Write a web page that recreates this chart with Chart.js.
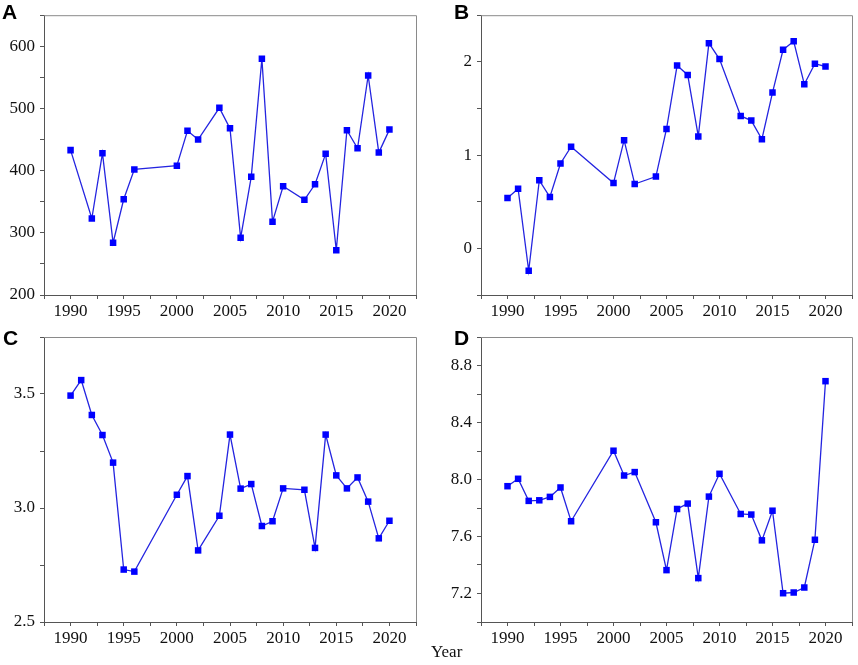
<!DOCTYPE html>
<html>
<head>
<meta charset="utf-8">
<script src="https://cdn.jsdelivr.net/npm/chart.js@4"></script>
<style>
  body { margin: 0; background: #fff; width: 858px; height: 665px; position: relative; overflow: hidden; }
  .pane { position: absolute; }
  .tag { position: absolute; font: bold 21px "Liberation Sans", Arial, sans-serif; color: #000; }
  #year { position: absolute; left: 431px; top: 642px; font: 17px "Liberation Serif", serif; color: #111; }
</style>
</head>
<body>
<div class="pane" style="left:0;top:0;width:429px;height:320px"><canvas id="chartA"></canvas></div>
<div class="pane" style="left:428px;top:0;width:430px;height:320px"><canvas id="chartB"></canvas></div>
<div class="pane" style="left:0;top:320px;width:429px;height:345px"><canvas id="chartC"></canvas></div>
<div class="pane" style="left:428px;top:320px;width:430px;height:345px"><canvas id="chartD"></canvas></div>
<div class="tag" style="left:2px;top:0px">A</div>
<div class="tag" style="left:454px;top:0px">B</div>
<div class="tag" style="left:3px;top:326px">C</div>
<div class="tag" style="left:454px;top:326px">D</div>
<div id="year">Year</div>
<script>
// années (A n'a pas 1991)
const yearsA = [1990, 1992, 1993, 1994, 1995, 1996, 2000, 2001, 2002, 2004, 2005, 2006, 2007, 2008, 2009, 2010, 2012, 2013, 2014, 2015, 2016, 2017, 2018, 2019, 2020];
const yearsBCD = [1990, 1991, 1992, 1993, 1994, 1995, 1996, 2000, 2001, 2002, 2004, 2005, 2006, 2007, 2008, 2009, 2010, 2012, 2013, 2014, 2015, 2016, 2017, 2018, 2019, 2020];

const valuesA = [433, 323, 428, 284, 354, 402, 408, 464, 450, 501, 468, 292, 390, 580, 318, 375, 353, 378, 427, 272, 465, 436, 553, 429, 466];
const valuesB = [0.54, 0.64, -0.24, 0.73, 0.55, 0.91, 1.09, 0.70, 1.16, 0.69, 0.77, 1.28, 1.96, 1.86, 1.20, 2.20, 2.03, 1.42, 1.37, 1.17, 1.67, 2.13, 2.22, 1.76, 1.98, 1.95];
const valuesC = [3.493, 3.561, 3.408, 3.320, 3.199, 2.730, 2.721, 3.058, 3.140, 2.814, 2.966, 3.322, 3.085, 3.105, 2.921, 2.942, 3.086, 3.080, 2.825, 3.322, 3.143, 3.086, 3.134, 3.028, 2.867, 2.944];
const valuesD = [7.953, 8.005, 7.850, 7.854, 7.878, 7.944, 7.707, 8.202, 8.028, 8.052, 7.700, 7.364, 7.793, 7.831, 7.308, 7.880, 8.040, 7.758, 7.754, 7.573, 7.781, 7.202, 7.207, 7.242, 7.577, 8.690];

// axes y : [min, max, pas des petites graduations]
const rangeA = [200, 650, 50];
const rangeB = [-0.5, 2.5, 0.5];
const rangeC = [2.5, 3.75, 0.25];
const rangeD = [7.0, 9.0, 0.2];

const labelFont = { family: '"Liberation Serif", "Times New Roman", serif', size: 17 };

// cadre gris en haut et à droite
const cadre = {
  id: 'cadre',
  afterDraw(chart) {
    const a = chart.chartArea, ctx = chart.ctx;
    ctx.save();
    ctx.strokeStyle = '#8a8a8a';
    ctx.lineWidth = 1;
    ctx.beginPath();
    ctx.moveTo(a.left, a.top + 0.5);
    ctx.lineTo(a.right + 0.5, a.top + 0.5);
    ctx.lineTo(a.right + 0.5, a.bottom);
    ctx.stroke();
    ctx.restore();
  }
};

function faireGraphique(id, years, values, range, yLabel, yWidth, pad, xHeight) {
  const ctx = document.getElementById(id).getContext('2d');
  return new Chart(ctx, {
    type: 'line',
    data: {
      datasets: [{
        data: years.map((y, i) => ({ x: y, y: values[i] })),
        borderColor: '#2424e0',
        borderWidth: 1.3,
        backgroundColor: '#0000ff',
        pointBackgroundColor: '#0000ff',
        pointBorderColor: '#0000ff',
        pointBorderWidth: 0,
        pointStyle: 'rect',
        pointRadius: 4.6,
        tension: 0,
        fill: false
      }]
    },
    options: {
      responsive: true,
      maintainAspectRatio: false,
      animation: false,
      layout: { padding: pad },
      plugins: { legend: { display: false }, tooltip: { enabled: false } },
      scales: {
        x: {
          type: 'linear',
          min: 1987.5,
          max: 2022.5,
          afterFit: s => { s.height = xHeight; },
          border: { color: '#555', width: 1 },
          grid: { drawOnChartArea: false, drawTicks: true, tickLength: 4, tickColor: '#555' },
          ticks: {
            stepSize: 2.5,
            autoSkip: false,
            maxRotation: 0,
            padding: 2,
            color: '#111',
            font: labelFont,
            callback: v => (v % 5 === 0 ? String(v) : '')
          }
        },
        y: {
          min: range[0],
          max: range[1],
          afterFit: s => { s.width = yWidth; },
          border: { color: '#555', width: 1 },
          grid: { drawOnChartArea: false, drawTicks: true, tickLength: 4, tickColor: '#555' },
          ticks: {
            stepSize: range[2],
            autoSkip: false,
            padding: 5,
            color: '#111',
            font: labelFont,
            callback: yLabel
          }
        }
      }
    },
    plugins: [cadre]
  });
}

faireGraphique('chartA', yearsA, valuesA, rangeA,
  v => (v % 100 === 0 && v < 650 ? String(v) : ''), 44, { left: 0, top: 11, right: 13, bottom: 0 }, 25);
faireGraphique('chartB', yearsBCD, valuesB, rangeB,
  v => (Math.abs(v - Math.round(v)) < 1e-9 ? String(Math.round(v)) : ''), 53, { left: 0, top: 11, right: 6, bottom: 0 }, 25);
faireGraphique('chartC', yearsBCD, valuesC, rangeC,
  v => { const n = Math.round(v * 100); return (n % 50 === 0 && n < 375) ? (n / 100).toFixed(1) : ''; }, 44, { left: 0, top: 17, right: 13, bottom: 0 }, 43);
faireGraphique('chartD', yearsBCD, valuesD, rangeD,
  v => { const n = Math.round(v * 10); return (n >= 72 && n <= 88 && (n - 72) % 4 === 0) ? (n / 10).toFixed(1) : ''; }, 53, { left: 0, top: 17, right: 6, bottom: 0 }, 43);
</script>
</body>
</html>
